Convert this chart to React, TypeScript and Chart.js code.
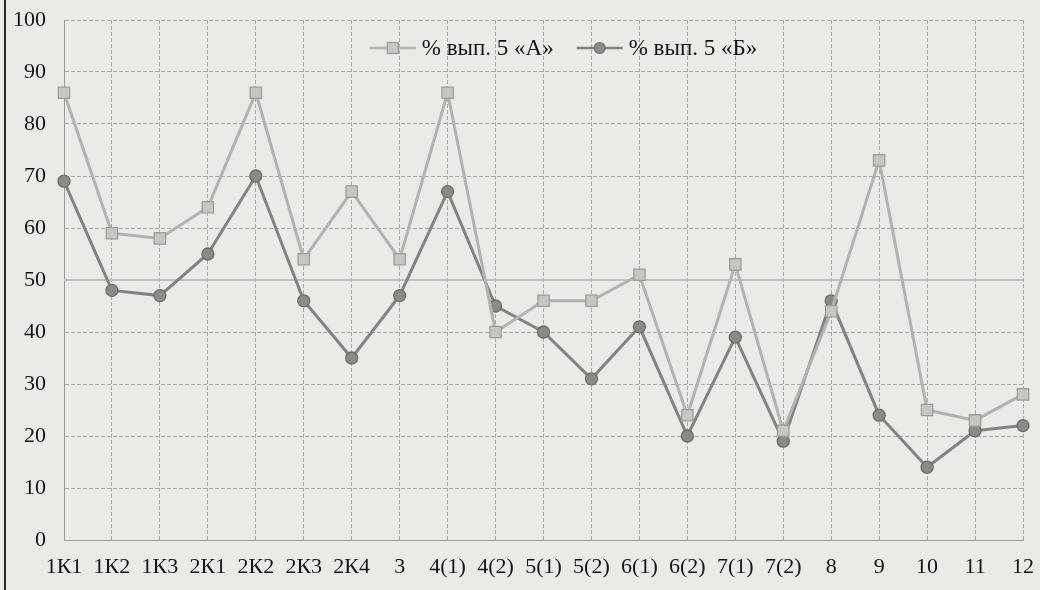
import React, { useEffect, useRef } from "react";
import { Chart, registerables } from "chart.js";

Chart.register(...registerables);

const categories = [
  "1К1", "1К2", "1К3", "2К1", "2К2", "2К3", "2К4", "3", "4(1)", "4(2)",
  "5(1)", "5(2)", "6(1)", "6(2)", "7(1)", "7(2)", "8", "9", "10", "11", "12",
];

const seriesA = [86, 59, 58, 64, 86, 54, 67, 54, 86, 40, 46, 46, 51, 24, 53, 21, 44, 73, 25, 23, 28];
const seriesB = [69, 48, 47, 55, 70, 46, 35, 47, 67, 45, 40, 31, 41, 20, 39, 19, 46, 24, 14, 21, 22];
const referenceLine = [50, 50, 50, 50, 50, 50, 50, 50, 50, 50, 50, 50, 50, 50, 50, 50, 50, 50, 50, 50, 50];

const labelA = "% вып. 5 «А»";
const labelB = "% вып. 5 «Б»";

const yTicks = [0, 10, 20, 30, 40, 50, 60, 70, 80, 90, 100];

const FONT = "'Liberation Serif', 'Times New Roman', serif";

// Legend drawn inside the plot area (line + marker, then text), from the datasets themselves
const insideLegend = {
  id: "insideLegend",
  afterDraw(chart: any) {
    const ctx = chart.ctx as CanvasRenderingContext2D;
    const area = chart.chartArea;
    const items = chart.data.datasets.filter((d: any) => d.showInLegend);
    ctx.save();
    ctx.font = `23px ${FONT}`;
    ctx.textBaseline = "middle";
    const iconW = 46;
    const gap = 6;
    const itemGap = 23;
    const widths = items.map((d: any) => iconW + gap + ctx.measureText(d.label).width);
    const total = widths.reduce((a: number, b: number) => a + b, 0) + itemGap * (items.length - 1);
    let x = (area.left + area.right) / 2 - total / 2 + 20;
    const y = area.top + 28;
    items.forEach((d: any, i: number) => {
      ctx.strokeStyle = d.borderColor;
      ctx.lineWidth = 2.5;
      ctx.beginPath();
      ctx.moveTo(x, y);
      ctx.lineTo(x + iconW, y);
      ctx.stroke();
      ctx.fillStyle = d.pointBackgroundColor;
      ctx.strokeStyle = d.pointBorderColor;
      ctx.lineWidth = 1.2;
      const cx = x + iconW / 2;
      if (d.pointStyle === "rect") {
        ctx.fillRect(cx - 5.5, y - 5.5, 11, 11);
        ctx.strokeRect(cx - 5.5, y - 5.5, 11, 11);
      } else {
        ctx.beginPath();
        ctx.arc(cx, y, 5.5, 0, Math.PI * 2);
        ctx.fill();
        ctx.stroke();
      }
      ctx.fillStyle = "#141414";
      ctx.fillText(d.label, x + iconW + gap, y + 1);
      x += widths[i] + itemGap;
    });
    ctx.restore();
  },
};

export default function App() {
  const canvasRef = useRef<HTMLCanvasElement | null>(null);

  useEffect(() => {
    document.body.style.margin = "0";
    const canvas = canvasRef.current;
    if (!canvas) return;

    const colA = "#b2b2b2";
    const colB = "#828282";

    const chart = new Chart(canvas, {
      type: "line",
      data: {
        labels: categories,
        datasets: [
          {
            label: labelA,
            data: seriesA,
            borderColor: colA,
            backgroundColor: "#c6c6c6",
            pointBackgroundColor: "#c6c6c6",
            borderWidth: 3,
            pointStyle: "rect",
            pointRadius: 8,
            pointBorderColor: "#9c9c9c",
            pointBorderWidth: 1.3,
            tension: 0,
            showInLegend: true,
          } as any,
          {
            label: labelB,
            data: seriesB,
            borderColor: colB,
            backgroundColor: "#8a8a8a",
            pointBackgroundColor: "#8a8a8a",
            borderWidth: 3,
            pointStyle: "circle",
            pointRadius: 6,
            pointBorderColor: "#6c6c6c",
            pointBorderWidth: 1.3,
            tension: 0,
            showInLegend: true,
          } as any,
          {
            label: "ref",
            data: referenceLine,
            borderColor: "#c0c0c0",
            borderWidth: 2,
            pointRadius: 0,
            tension: 0,
          },
        ],
      },
      options: {
        responsive: false,
        animation: false,
        layout: { padding: { top: 20, right: 17, left: 0, bottom: 0 } },
        plugins: {
          tooltip: { enabled: false },
          legend: { display: false },
        },
        scales: {
          x: {
            offset: false,
            grid: { color: "#a8a8a8", lineWidth: 1, drawTicks: false },
            border: { color: "#9a9a9a", dash: [4, 2] },
            ticks: {
              color: "#141414",
              font: { family: FONT, size: 22 },
              padding: 14,
              maxRotation: 0,
              autoSkip: false,
            },
            afterFit: (s: any) => {
              s.height = 50;
              s.paddingLeft = 0;
              s.paddingRight = 0;
            },
          },
          y: {
            min: 0,
            max: 100,
            afterBuildTicks: (s: any) => {
              s.ticks = yTicks.map((v) => ({ value: v }));
            },
            grid: { color: "#a8a8a8", lineWidth: 1, drawTicks: false },
            border: { color: "#9a9a9a", dash: [4, 2] },
            ticks: {
              color: "#141414",
              font: { family: FONT, size: 22 },
              padding: 18,
            },
            afterFit: (s: any) => {
              s.width = 64;
              s.paddingTop = 0;
              s.paddingBottom = 0;
            },
          },
        },
      },
      plugins: [insideLegend],
    });

    return () => chart.destroy();
  }, []);

  return (
    <div
      style={{
        position: "relative",
        width: 1040,
        height: 590,
        background: "#e9ebe6",
        overflow: "hidden",
      }}
    >
      <div
        style={{
          position: "absolute",
          left: 4,
          top: 0,
          width: 2,
          height: 590,
          background: "#2a2a2a",
        }}
      />
      <canvas ref={canvasRef} width={1040} height={590} style={{ position: "absolute", left: 0, top: 0 }} />
    </div>
  );
}
